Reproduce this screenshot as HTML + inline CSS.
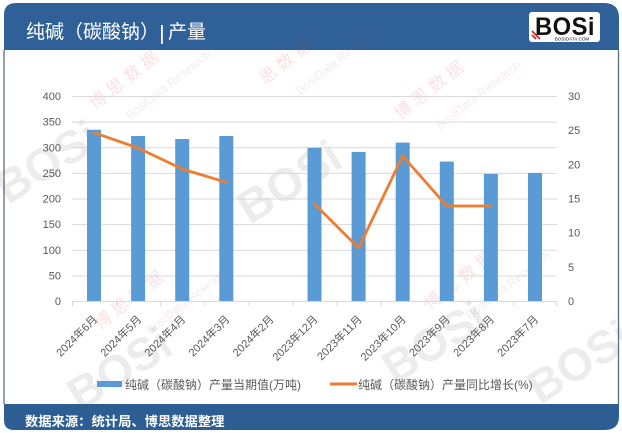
<!DOCTYPE html>
<html><head><meta charset="utf-8"><style>
html,body{margin:0;padding:0;background:#fff;}
svg{display:block;}
text{font-family:"Liberation Sans","Noto Sans CJK SC",sans-serif;}
</style></head><body>
<svg width="622" height="433" viewBox="0 0 622 433" xmlns="http://www.w3.org/2000/svg">
<!-- frame -->
<rect x="0" y="0" width="622" height="433" fill="#fff"/>
<path d="M4,50 V404 M618.5,50 V404" stroke="#5a6f86" stroke-width="1.3" fill="none"/>
<!-- header -->
<path d="M4,50 V15 Q4,3 16,3 H604 Q619,3 619,18 V50 Z" fill="#2f6198"/>
<text x="26" y="38" font-size="19" fill="#fff">纯碱（碳酸钠）</text>
<rect x="161" y="25" width="1.8" height="19" fill="#fff"/>
<text x="168" y="38" font-size="19" fill="#fff">产量</text>
<!-- logo -->
<rect x="529" y="12" width="71" height="30" rx="3" fill="#fff"/>
<text x="565" y="35" font-size="25" font-weight="bold" fill="#111" text-anchor="middle" letter-spacing="0.5" textLength="60" lengthAdjust="spacingAndGlyphs">BOSi</text>
<path d="M532,31 L540,39 M532,35 L536,39" stroke="#c8282e" stroke-width="1.6"/>
<text x="572" y="40.5" font-size="4.6" fill="#111" text-anchor="middle">BOSIDATA.COM</text>
<!-- footer -->
<path d="M4,404 H619 V416 Q619,430 605,430 H14 Q4,430 4,420 Z" fill="#2c5e93"/>
<text x="25" y="426" font-size="13.3" font-weight="bold" fill="#fff">数据来源：统计局、博思数据整理</text>

<!-- watermarks -->
<g opacity="0.11" fill="#555" font-weight="bold" font-size="46">
<text transform="translate(8,205) rotate(-32)">BOSi</text>
<text transform="translate(250,225) rotate(-32)">BOSi</text>
<text transform="translate(80,412) rotate(-32)">BOSi</text>
<text transform="translate(395,385) rotate(-32)">BOSi</text>
<text transform="translate(540,405) rotate(-32)">BOSi</text>
</g>
<g opacity="0.14" fill="#d23">
<text transform="translate(95,110) rotate(-38)" font-size="17">博 思 数 据</text>
<text transform="translate(265,85) rotate(-38)" font-size="17">思 数 据</text>
<text transform="translate(100,330) rotate(-38)" font-size="17">博 思 数 据</text>
<text transform="translate(400,120) rotate(-38)" font-size="17">博 思 数 据</text>
<text transform="translate(430,310) rotate(-38)" font-size="17">博 思 数 据</text>
</g>
<g opacity="0.12" fill="#a55" font-size="12">
<text transform="translate(130,120) rotate(-38)">BosiData Research</text>
<text transform="translate(300,95) rotate(-38)">BosiData Research</text>
<text transform="translate(150,335) rotate(-38)">BosiData Research</text>
<text transform="translate(440,130) rotate(-38)">BosiData Research</text>
<text transform="translate(470,320) rotate(-38)">BosiData Research</text>
</g>

<!-- gridlines -->
<g stroke="#d9d9d9" stroke-width="1">
<line x1="72" y1="96.5" x2="557" y2="96.5"/>
<line x1="72" y1="122.1" x2="557" y2="122.1"/>
<line x1="72" y1="147.75" x2="557" y2="147.75"/>
<line x1="72" y1="173.4" x2="557" y2="173.4"/>
<line x1="72" y1="199" x2="557" y2="199"/>
<line x1="72" y1="224.6" x2="557" y2="224.6"/>
<line x1="72" y1="250.25" x2="557" y2="250.25"/>
<line x1="72" y1="275.9" x2="557" y2="275.9"/>
<line x1="72" y1="301.5" x2="557" y2="301.5"/>
</g>
<g stroke="#d9d9d9" stroke-width="1">
<line x1="72.5" y1="301" x2="72.5" y2="306"/>
<line x1="116.6" y1="301" x2="116.6" y2="306"/>
<line x1="160.7" y1="301" x2="160.7" y2="306"/>
<line x1="204.8" y1="301" x2="204.8" y2="306"/>
<line x1="248.9" y1="301" x2="248.9" y2="306"/>
<line x1="293" y1="301" x2="293" y2="306"/>
<line x1="337.1" y1="301" x2="337.1" y2="306"/>
<line x1="381.2" y1="301" x2="381.2" y2="306"/>
<line x1="425.3" y1="301" x2="425.3" y2="306"/>
<line x1="469.4" y1="301" x2="469.4" y2="306"/>
<line x1="513.5" y1="301" x2="513.5" y2="306"/>
<line x1="556.5" y1="301" x2="556.5" y2="306"/>
</g>

<!-- left axis labels -->
<g font-size="11" fill="#595959" text-anchor="end">
<text x="61" y="100">400</text>
<text x="61" y="125.6">350</text>
<text x="61" y="151.3">300</text>
<text x="61" y="176.9">250</text>
<text x="61" y="202.5">200</text>
<text x="61" y="228.1">150</text>
<text x="61" y="253.8">100</text>
<text x="61" y="279.4">50</text>
<text x="61" y="305">0</text>
</g>
<g font-size="11" fill="#595959">
<text x="568" y="100">30</text>
<text x="568" y="134.2">25</text>
<text x="568" y="168.3">20</text>
<text x="568" y="202.5">15</text>
<text x="568" y="236.7">10</text>
<text x="568" y="270.8">5</text>
<text x="568" y="305">0</text>
</g>

<!-- bars -->
<g fill="#5b9bd5">
<rect x="87" y="129.8" width="14" height="171.2"/>
<rect x="131.1" y="136" width="14" height="165"/>
<rect x="175.2" y="139" width="14" height="162"/>
<rect x="219.3" y="136" width="14" height="165"/>
<rect x="307.5" y="147.8" width="14" height="153.2"/>
<rect x="351.6" y="151.9" width="14" height="149.1"/>
<rect x="395.7" y="142.6" width="14" height="158.4"/>
<rect x="439.8" y="161.6" width="14" height="139.4"/>
<rect x="483.9" y="173.9" width="14" height="127.1"/>
<rect x="528" y="172.9" width="14" height="128.1"/>
</g>

<!-- line -->
<g fill="none" stroke="#ed7d31" stroke-width="2.8" stroke-linejoin="round" stroke-linecap="round">
<polyline points="94,132.7 138.1,148 182.2,169 226.3,182.3"/>
<polyline points="314.5,204 358.6,248 402.7,156 446.8,206 490.9,206"/>
</g>

<!-- x labels -->
<g font-size="11" fill="#595959" text-anchor="end">
<text transform="translate(98,320) rotate(-45)">2024年6月</text>
<text transform="translate(142.1,320) rotate(-45)">2024年5月</text>
<text transform="translate(186.2,320) rotate(-45)">2024年4月</text>
<text transform="translate(230.3,320) rotate(-45)">2024年3月</text>
<text transform="translate(274.4,320) rotate(-45)">2024年2月</text>
<text transform="translate(318.5,320) rotate(-45)">2023年12月</text>
<text transform="translate(362.6,320) rotate(-45)">2023年11月</text>
<text transform="translate(406.7,320) rotate(-45)">2023年10月</text>
<text transform="translate(450.8,320) rotate(-45)">2023年9月</text>
<text transform="translate(494.9,320) rotate(-45)">2023年8月</text>
<text transform="translate(539,320) rotate(-45)">2023年7月</text>
</g>

<!-- legend -->
<rect x="97" y="381" width="25" height="6" fill="#5b9bd5"/>
<text x="125" y="389" font-size="12" fill="#595959">纯碱（碳酸钠）产量当期值(万吨)</text>
<line x1="330" y1="384" x2="357" y2="384" stroke="#ed7d31" stroke-width="3"/>
<text x="358" y="389" font-size="12" fill="#595959">纯碱（碳酸钠）产量同比增长(%)</text>
</svg>
</body></html>
